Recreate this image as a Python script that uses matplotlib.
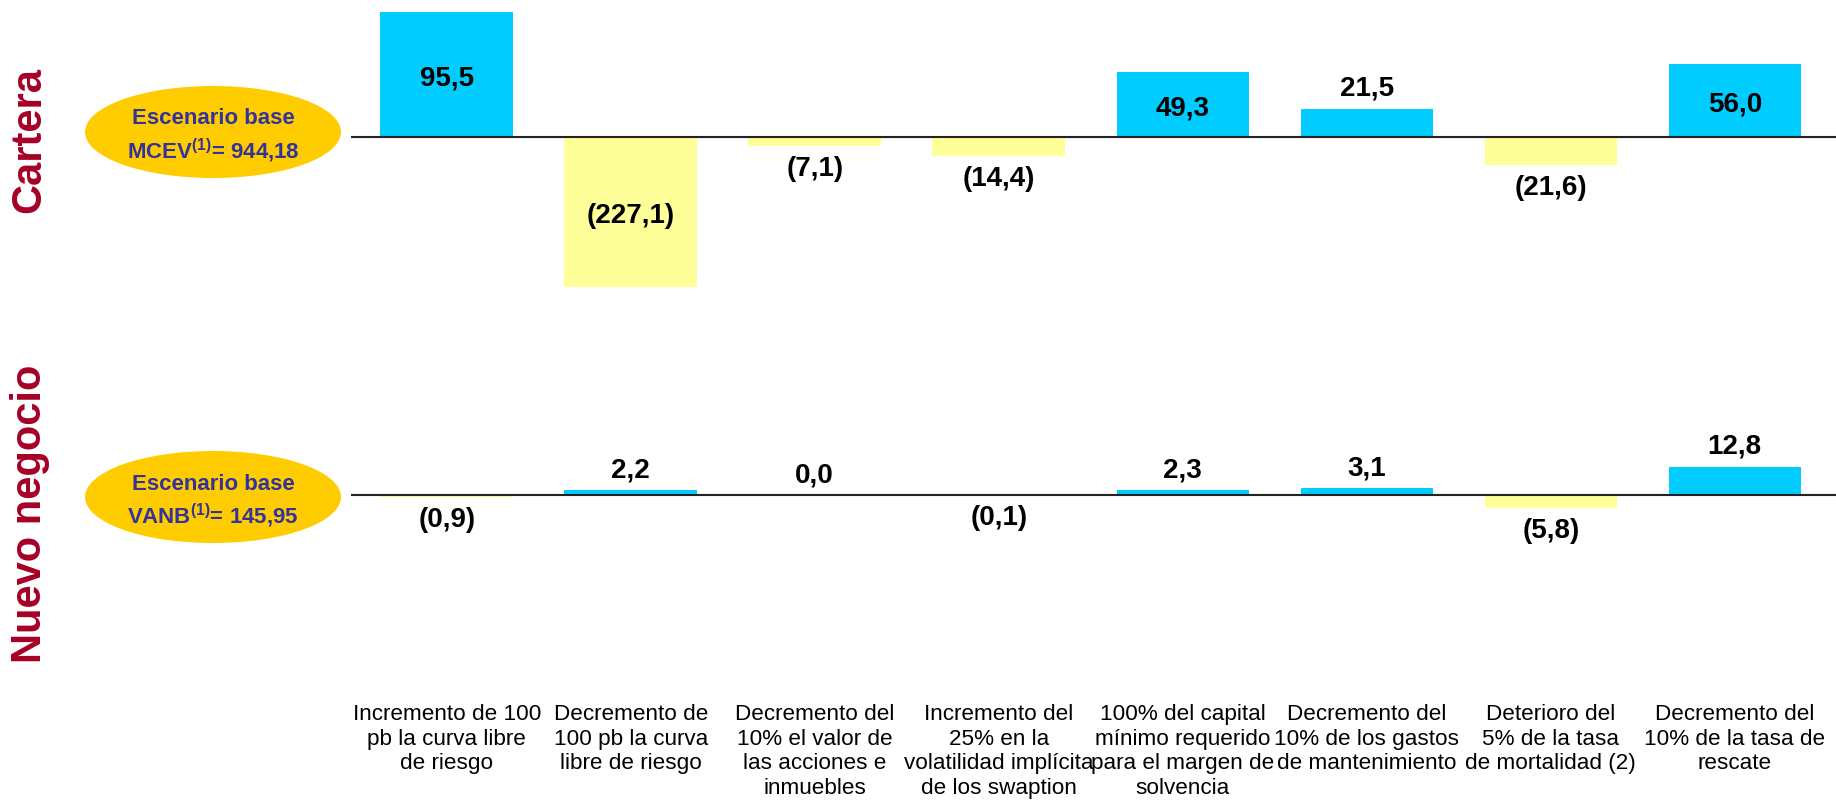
import matplotlib.pyplot as plt
from matplotlib.patches import Ellipse
from matplotlib.transforms import blended_transform_factory

plt.rcParams['font.family'] = ['Liberation Sans', 'DejaVu Sans']
plt.rcParams['mathtext.fontset'] = 'custom'
plt.rcParams['mathtext.rm'] = 'Liberation Sans'
plt.rcParams['mathtext.bf'] = 'Liberation Sans:bold'

#=================== DATOS ===============================

categorias = ["Incremento de 100\npb la curva libre\nde riesgo",
              "Decremento de\n100 pb la curva\nlibre de riesgo",
              "Decremento del\n10% el valor de\nlas acciones e\ninmuebles",
              "Incremento del\n25% en la\nvolatilidad implícita\nde los swaption",
              "100% del capital\nmínimo requerido\npara el margen de\nsolvencia",
              "Decremento del\n10% de los gastos\nde mantenimiento",
              "Deterioro del\n5% de la tasa\nde mortalidad (2)",
              "Decremento del\n10% de la tasa de\nrescate"]

cartera = [95.5, -227.1, -7.1, -14.4, 49.3, 21.5, -21.6, 56.0]
nuevo_negocio = [-0.9, 2.2, 0.0, -0.1, 2.3, 3.1, -5.8, 12.8]

base_cartera = r"MCEV$^{\mathbf{(1)}}$= 944,18"
base_nuevo = r"VANB$^{\mathbf{(1)}}$= 145,95"

AZUL = '#00CCFF'
AMARILLO = '#FFFF99'
ROJO = '#A50026'
TINTA = '#333399'

W, H = 1836, 811


def etiqueta(v):
    s = f"{abs(v):.1f}".replace('.', ',')
    return f"({s})" if v < 0 else s


def panel(ax, valores, ylim, umbral):
    x = range(len(valores))
    colores = [AZUL if v >= 0 else AMARILLO for v in valores]
    ax.bar(x, valores, width=0.72, color=colores, zorder=2)
    ax.axhline(0, color='#222222', lw=1.5, zorder=3)
    ax.set_xlim(-0.52, 7.55)
    ax.set_ylim(*ylim)
    ax.axis('off')
    for i, v in enumerate(valores):
        if abs(v) >= umbral:
            y = max(min(v, ylim[1]), ylim[0]) / 2
            ax.annotate(etiqueta(v), (i, y), xytext=(0, -3), textcoords='offset points',
                        ha='center', va='center', fontsize=20, fontweight='bold', zorder=4)
        elif v >= 0:
            ax.annotate(etiqueta(v), (i, v), xytext=(0, 5), textcoords='offset points',
                        ha='center', va='bottom', fontsize=20, fontweight='bold')
        else:
            ax.annotate(etiqueta(v), (i, v), xytext=(0, -7), textcoords='offset points',
                        ha='center', va='top', fontsize=20, fontweight='bold')


fig = plt.figure(figsize=(W / 100, H / 100), dpi=100)

ax_top = fig.add_axes([351 / W, 1 - 287 / H, (W - 351) / W, 287 / H])
panel(ax_top, cartera, (-114.5, 104.6), 40)

ax_bot = fig.add_axes([351 / W, 1 - 600 / H, (W - 351) / W, 220 / H])
panel(ax_bot, nuevo_negocio, (-47.7, 52.3), 1000)

### Etiquetas de categorias
trans = blended_transform_factory(ax_bot.transData, fig.transFigure)
for i, c in enumerate(categorias):
    ax_bot.text(i, 1 - 704 / H, c, transform=trans, ha='center', va='top',
                fontsize=16.2, linespacing=1.23)

### Elipses "Escenario base"
for cy, linea2 in [(132, base_cartera), (497, base_nuevo)]:
    fig.add_artist(Ellipse((213 / W, 1 - cy / H), 256 / W, 92 / H,
                           transform=fig.transFigure, facecolor='#FFCC00',
                           edgecolor='none'))
    fig.text(213 / W, 1 - (cy - 13) / H, "Escenario base", ha='center', va='center',
             fontsize=16, fontweight='bold', color=TINTA)
    fig.text(213 / W, 1 - (cy + 19) / H, linea2, ha='center', va='center',
             fontsize=16, fontweight='bold', color=TINTA)

### Titulos laterales
fig.text(29 / W, 1 - 140 / H, "Cartera", rotation=90, ha='center', va='center',
         fontsize=30, fontweight='bold', color=ROJO)
fig.text(30 / W, 1 - 514 / H, "Nuevo negocio", rotation=90, ha='center', va='center',
         fontsize=30, fontweight='bold', color=ROJO)

plt.savefig("out.png", dpi=100)
